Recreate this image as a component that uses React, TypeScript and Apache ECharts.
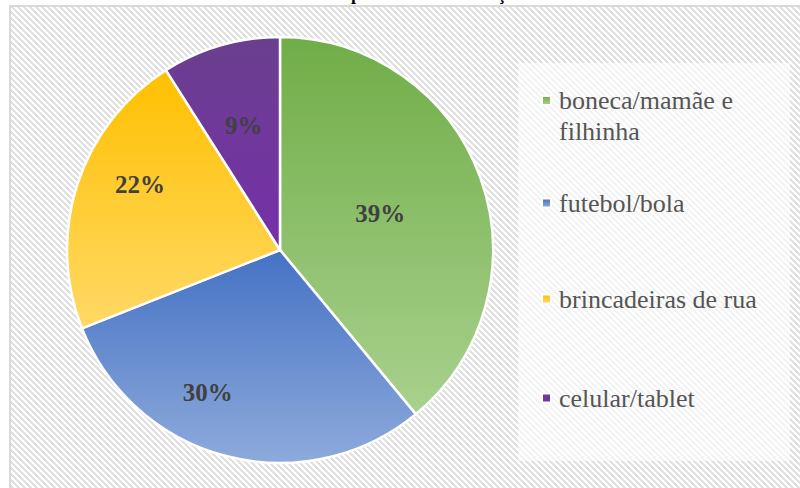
import React, { useEffect, useRef } from "react";
import * as echarts from "echarts";

const TITLE = "Brincadeira preferida das crianças";
const CATEGORIES = ["boneca/mamãe e filhinha", "futebol/bola", "brincadeiras de rua", "celular/tablet"];
const LEGEND_LABELS = ["boneca/mamãe e\nfilhinha", "futebol/bola", "brincadeiras de rua", "celular/tablet"];
const VALUES = [39, 30, 22, 9];

// styling (not data)
const SERIF = "Liberation Serif";
const TOP_COLORS = ["#70ad47", "#4472c4", "#ffc000", "#6a3f8e"];
const BOTTOM_COLORS = ["#a9d18e", "#8eaadb", "#ffd966", "#7630aa"];
const CENTER: [number, number] = [280, 250];
const RADIUS = 213;
const LABEL_RADIUS_FRAC = [0.5, 0.75, 0.725, 0.61];
const LABEL_ANGLE_SHIFT = [0, 12.5, 7, 0];
const LEGEND_ICON_CENTERS = [100.5, 203, 299, 398];
const LINE_H = 31;

const grad = (a: string, b: string) =>
  new echarts.graphic.LinearGradient(0, 0, 0, 1, [
    { offset: 0, color: a },
    { offset: 1, color: b },
  ]);

export default function App() {
  const ref = useRef<HTMLDivElement>(null);

  useEffect(() => {
    document.body.style.margin = "0";
    const el = ref.current;
    if (!el) return;
    const chart = echarts.init(el, null, { renderer: "svg" });

    const total = VALUES.reduce((s, v) => s + v, 0);
    const cum: number[] = [];
    let acc = 0;
    VALUES.forEach((v) => {
      cum.push(acc);
      acc += v;
    });

    const richStyle = {
      fontFamily: SERIF,
      fontSize: 26,
      fontWeight: "normal",
      color: "#555555",
      lineHeight: LINE_H,
    };

    const legends = CATEGORIES.map((name, i) => {
      const lines = LEGEND_LABELS[i].split("\n");
      const multi = lines.length > 1;
      const boxH = multi ? (2 * lines.length - 1) * LINE_H : LINE_H;
      return {
        show: true,
        data: [name],
        orient: "vertical",
        left: 541,
        top: LEGEND_ICON_CENTERS[i] - boxH / 2,
        padding: 0,
        itemWidth: 9,
        itemHeight: 9,
        icon: "rect",
        selectedMode: false,
        formatter: () => lines.map((l) => "{t|" + l + "}").join("\n"),
        textStyle: {
          fontFamily: SERIF,
          fontSize: 26,
          color: "#555555",
          lineHeight: LINE_H,
          padding: multi ? [(lines.length - 1) * LINE_H, 0, 0, 3] : [0, 0, 0, 3],
          rich: { t: richStyle },
        },
      };
    });

    const option: any = {
      animation: false,
      backgroundColor: "transparent",
      textStyle: { fontFamily: SERIF },
      graphic: [
        {
          type: "rect",
          shape: { x: 518, y: 63, width: 272, height: 398 },
          style: { fill: "rgba(255,255,255,0.6)" },
          silent: true,
          z: -1,
        },
        {
          type: "text",
          x: 388,
          y: -6,
          style: {
            text: TITLE,
            fontFamily: SERIF,
            fontWeight: "bold",
            fontSize: 18,
            fill: "#000",
            align: "center",
            verticalAlign: "middle",
          },
        },
      ],
      legend: legends,
      series: [
        {
          type: "pie",
          center: CENTER,
          radius: RADIUS,
          startAngle: 90,
          clockwise: true,
          avoidLabelOverlap: false,
          itemStyle: { borderColor: "#ffffff", borderWidth: 2.5 },
          label: {
            show: true,
            position: "inside",
            formatter: (p: any) => Math.round(p.percent) + "%",
            fontFamily: SERIF,
            fontWeight: "bold",
            fontSize: 25,
            color: "#404040",
          },
          labelLine: { show: false },
          emphasis: { disabled: true },
          labelLayout: (params: any) => {
            const i = params.dataIndex;
            const mid = ((cum[i] + VALUES[i] / 2) / total) * 360 + LABEL_ANGLE_SHIFT[i];
            const rad = (mid * Math.PI) / 180;
            const r = RADIUS * LABEL_RADIUS_FRAC[i];
            return {
              x: CENTER[0] + r * Math.sin(rad),
              y: CENTER[1] - r * Math.cos(rad),
              align: "center",
              verticalAlign: "middle",
            };
          },
          data: CATEGORIES.map((name, i) => ({
            name,
            value: VALUES[i],
            itemStyle: { color: grad(TOP_COLORS[i], BOTTOM_COLORS[i]) },
          })),
        },
      ],
    };

    chart.setOption(option);
    return () => chart.dispose();
  }, []);

  return (
    <div
      style={{
        position: "relative",
        width: 800,
        height: 488,
        overflow: "hidden",
        background: "#ffffff",
      }}
    >
      <div
        style={{
          position: "absolute",
          left: 9,
          top: 5,
          width: 840,
          height: 540,
          border: "2px solid #d9d9d9",
          background:
            "repeating-linear-gradient(45deg, #e0e0e0 0px, #e0e0e0 2.1px, #ffffff 2.1px, #ffffff 4.24px)",
        }}
      />
      <div
        ref={ref}
        style={{ position: "absolute", left: 0, top: 0, width: 800, height: 488 }}
      />
    </div>
  );
}
